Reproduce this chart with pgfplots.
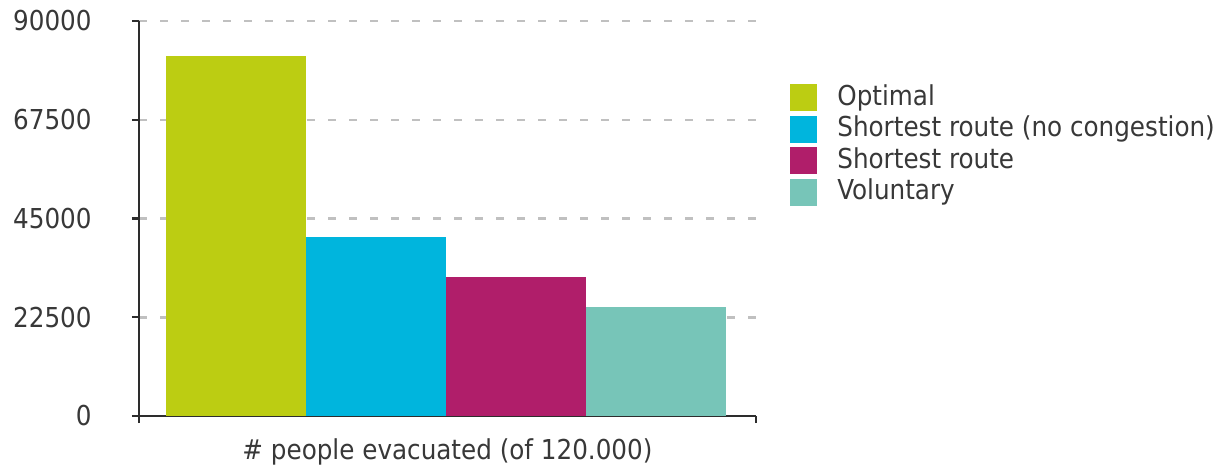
\documentclass[border=0pt]{standalone}
\usepackage{fontspec}
\IfFontExistsTF{DejaVu Sans Condensed}
  {\setmainfont{DejaVu Sans Condensed}}
  {\setmainfont{DejaVu Sans}[FakeStretch=0.9]}
\usepackage{pgfplots}
\pgfplotsset{compat=1.18}

\definecolor{optgreen}{RGB}{188,205,18}
\definecolor{shortblue}{RGB}{0,181,221}
\definecolor{shortmag}{RGB}{176,30,106}
\definecolor{volteal}{RGB}{119,197,184}
\definecolor{txtgray}{RGB}{56,56,56}
\definecolor{axisgray}{RGB}{45,45,45}
\definecolor{gridgray}{RGB}{192,192,192}

\begin{document}
\fontsize{13.7pt}{16pt}\selectfont
\begin{tikzpicture}
\path[use as bounding box] (-69.5pt,-28pt) rectangle (539.5pt,208pt);
\begin{axis}[
  at={(0pt,0pt)}, anchor=south west,
  scale only axis, width=308.5pt, height=197.5pt,
  xmin=-0.693, xmax=3.714, ymin=0, ymax=90000,
  ybar, bar width=70pt, bar shift=0pt,
  axis x line*=bottom, axis y line*=left,
  axis line style={axisgray, line width=1.2pt},
  xtick={-0.693,3.714}, xticklabels={,},
  ytick={0,22500,45000,67500,90000},
  scaled y ticks=false,
  tick align=outside, major tick length=3.5pt,
  tick style={axisgray, line width=1.2pt},
  ymajorgrids,
  major grid style={gridgray, line width=1.25pt, dash pattern=on 4pt off 6.5pt},
  /pgf/number format/assume math mode=true,
  /pgf/number format/1000 sep={},
  /pgf/number format/fixed,
  yticklabel style={text=txtgray, inner sep=0pt, anchor=east, xshift=-20pt},
  xlabel={\# people evacuated (of 120.000)},
  xlabel style={text=txtgray, at={(axis description cs:0.5,0)}, anchor=base, yshift=-21.5pt, inner sep=0pt},
  legend image code/.code={\fill[#1] (0pt,-6.75pt) rectangle (13.5pt,6.75pt);},
  legend cell align=left,
  legend style={draw=none, fill=none, at={(1.0551,0.843)}, anchor=north west,
    inner sep=0pt, row sep=1.25pt,
    nodes={inner sep=0pt, text=txtgray, text height=11pt, text depth=3.5pt},
    /tikz/every odd column/.append style={column sep=10pt}},
]
\addplot[draw=none, fill=optgreen] coordinates {(0,82000)};
\addlegendentry{Optimal}
\addplot[draw=none, fill=shortblue] coordinates {(1,40900)};
\addlegendentry{Shortest route (no congestion)}
\addplot[draw=none, fill=shortmag] coordinates {(2,31700)};
\addlegendentry{Shortest route}
\addplot[draw=none, fill=volteal] coordinates {(3,24900)};
\addlegendentry{Voluntary}
\end{axis}
\end{tikzpicture}
\end{document}
